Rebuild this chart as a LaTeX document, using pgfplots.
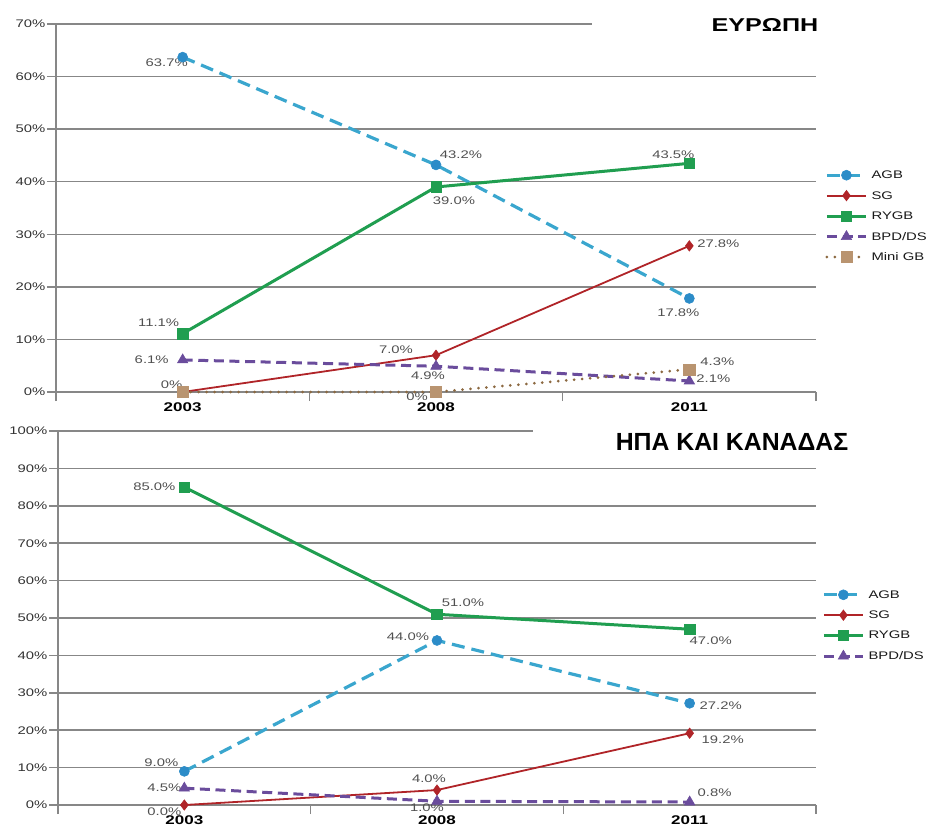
\documentclass[border=0pt]{standalone}
\usepackage{fontspec}
\setmainfont{Liberation Sans}[FakeStretch=1.35]
\newfontfamily\headfont{Liberation Sans}
\usepackage{pgfplots}
\pgfplotsset{compat=1.18}

\definecolor{agbline}{RGB}{58,166,206}
\definecolor{agbmark}{RGB}{44,140,200}
\definecolor{sgcol}{RGB}{176,36,40}
\definecolor{rygbcol}{RGB}{32,158,80}
\definecolor{bpdcol}{RGB}{106,76,156}
\definecolor{minline}{RGB}{140,105,65}
\definecolor{minmark}{RGB}{185,148,112}
\definecolor{gridc}{RGB}{135,135,135}
\definecolor{tickc}{RGB}{50,50,50}
\definecolor{lblc}{RGB}{80,80,80}

\tikzset{lbl/.style={font=\fontsize{5.5}{6}\selectfont, text=lblc, inner sep=0pt}}

\pgfplotsset{
  panel/.style={
    scale only axis, clip=false,
    xmin=-0.5, xmax=2.5, ymin=0,
    axis lines*=left,
    axis line style={gridc, line width=0.75pt},
    tick align=outside,
    tick style={gridc, line width=0.75pt},
    xtick={-0.5,0.5,1.5,2.5}, xticklabels={},
    extra x ticks={0,1,2},
    extra x tick labels={2003,2008,2011},
    extra x tick style={major tick length=0pt, grid=none,
      xticklabel style={anchor=center, yshift=-7.5pt}},
    xticklabel style={font=\bfseries\fontsize{6.3}{7}\selectfont, text=black},
    xmajorgrids=false,
    ymajorgrids,
    grid style={gridc, line width=0.75pt},
    major tick length=2.5pt,
    ytick pos=left,
    yticklabel style={font=\fontsize{5.5}{6}\selectfont, text=tickc, inner sep=0.6pt},
    /pgf/number format/assume math mode=true,
    legend cell align=left,
    legend style={draw=none, fill=none, inner sep=0pt, outer sep=0pt,
      font=\fontsize{5.5}{6}\selectfont, text=black!90,
      nodes={inner sep=0pt, text height=4.6pt, text depth=1.2pt},
      row sep=4.4pt},
    legend image code/.code={
      \draw[mark repeat=2, mark phase=2]
        plot coordinates {(0pt,0pt) (9.75pt,0pt) (19.5pt,0pt)};
      \path (-0.5pt,0pt) (21.5pt,0pt);},
  },
  agb/.style={color=agbline, line width=1.6pt, dash pattern=on 6.5pt off 3.5pt,
    mark=*, mark size=2.5pt, mark options={solid, fill=agbmark, draw=agbmark, line width=0.3pt}},
  sg/.style={color=sgcol, line width=0.9pt,
    mark=diamond*, mark size=2.6pt, mark options={solid, line width=0.3pt}},
  rygb/.style={color=rygbcol, line width=1.5pt,
    mark=square*, mark size=2.6pt, mark options={solid, line width=0.3pt}},
  bpd/.style={color=bpdcol, line width=1.5pt, dash pattern=on 5pt off 2.8pt,
    mark=triangle*, mark size=3pt, mark options={solid, line width=0.3pt}},
  mini/.style={color=minline, line width=1.5pt, line cap=round, dash pattern=on 0pt off 4pt,
    mark=square*, mark size=2.8pt, mark options={solid, fill=minmark, draw=minmark, line width=0.3pt}},
}

% value label: coordinate, text, horizontal and vertical shift
\newcommand{\vlab}[4]{\node[lbl, xshift=#3, yshift=#4] at (axis cs:#1) {#2};}

\begin{document}
\begin{tikzpicture}
\useasboundingbox (0pt,0pt) rectangle (464pt,-413.5pt);

% ---------------- Europe ----------------
\begin{axis}[panel,
  at={(28pt,-196pt)}, anchor=south west, width=380pt, height=184pt,
  ymax=70,
  ytick={0,10,...,60},
  yticklabels={0\%,10\%,20\%,30\%,40\%,50\%,60\%},
  extra y ticks={70}, extra y tick labels={70\%},
  extra y tick style={grid=none},
  major tick length=4.5pt,
  legend style={at={(axis description cs:1.011,0.478)}, anchor=west},
]
\draw[gridc, line width=0.75pt] (axis cs:-0.5,70) -- (axis cs:1.616,70);

\addplot[agb]  coordinates {(0,63.7) (1,43.2) (2,17.8)};
\addplot[sg]   coordinates {(0,0) (1,7.0) (2,27.8)};
\addplot[rygb] coordinates {(0,11.1) (1,39.0) (2,43.5)};
\addplot[bpd]  coordinates {(0,6.1) (1,4.9) (2,2.1)};
\addplot[mini] coordinates {(0,0) (1,0) (2,4.3)};
\legend{AGB, SG, RYGB, BPD/DS, Mini GB}

\vlab{0,63.7}{63.7\%}{-8pt}{-3pt}
\vlab{1,43.2}{43.2\%}{12.5pt}{5pt}
\vlab{2,17.8}{17.8\%}{-5.5pt}{-7pt}
\vlab{0,0}{0\%}{-5.5pt}{3.5pt}
\vlab{1,7.0}{7.0\%}{-20pt}{3pt}
\vlab{2,27.8}{27.8\%}{14.5pt}{1pt}
\vlab{0,11.1}{11.1\%}{-12pt}{5.5pt}
\vlab{1,39.0}{39.0\%}{9pt}{-7pt}
\vlab{2,43.5}{43.5\%}{-8pt}{4.5pt}
\vlab{0,6.1}{6.1\%}{-15.5pt}{0pt}
\vlab{1,4.9}{4.9\%}{-4pt}{-4.5pt}
\vlab{2,2.1}{2.1\%}{12pt}{1pt}
\vlab{1,0}{0\%}{-9.5pt}{-2.5pt}
\vlab{2,4.3}{4.3\%}{14pt}{4pt}
\end{axis}

% ---------------- USA and Canada ----------------
\begin{axis}[panel,
  at={(29pt,-402.5pt)}, anchor=south west, width=379pt, height=187pt,
  ymax=100,
  ytick={0,10,...,90},
  yticklabels={0\%,10\%,20\%,30\%,40\%,50\%,60\%,70\%,80\%,90\%},
  extra y ticks={100}, extra y tick labels={100\%},
  extra y tick style={grid=none},
  major tick length=4.5pt,
  legend style={at={(axis description cs:1.007,0.48)}, anchor=west},
]
\draw[gridc, line width=0.75pt] (axis cs:-0.5,100) -- (axis cs:1.38,100);

\addplot[agb]  coordinates {(0,9.0) (1,44.0) (2,27.2)};
\addplot[sg]   coordinates {(0,0.0) (1,4.0) (2,19.2)};
\addplot[rygb] coordinates {(0,85.0) (1,51.0) (2,47.0)};
\addplot[bpd]  coordinates {(0,4.5) (1,1.0) (2,0.8)};
\legend{AGB, SG, RYGB, BPD/DS}

\vlab{0,85.0}{85.0\%}{-15pt}{0pt}
\vlab{1,51.0}{51.0\%}{13pt}{6pt}
\vlab{2,47.0}{47.0\%}{10.5pt}{-5.5pt}
\vlab{0,9.0}{9.0\%}{-11.5pt}{4.5pt}
\vlab{1,44.0}{44.0\%}{-14.5pt}{2pt}
\vlab{2,27.2}{27.2\%}{15.5pt}{-1pt}
\vlab{0,0.0}{0.0\%}{-10pt}{-3.5pt}
\vlab{1,4.0}{4.0\%}{-4pt}{5.5pt}
\vlab{2,19.2}{19.2\%}{16.5pt}{-3.5pt}
\vlab{0,4.5}{4.5\%}{-10pt}{0pt}
\vlab{1,1.0}{1.0\%}{-5pt}{-3pt}
\vlab{2,0.8}{0.8\%}{12.5pt}{4.5pt}
\end{axis}

% panel headings
\node[font=\bfseries\fontsize{9.3}{10}\selectfont] at (382.5pt,-12.5pt) {ΕΥΡΩΠΗ};
\node[font=\headfont\bfseries\fontsize{12.4}{13}\selectfont] at (366pt,-221pt) {ΗΠΑ ΚΑΙ ΚΑΝΑΔΑΣ};
\end{tikzpicture}
\end{document}
